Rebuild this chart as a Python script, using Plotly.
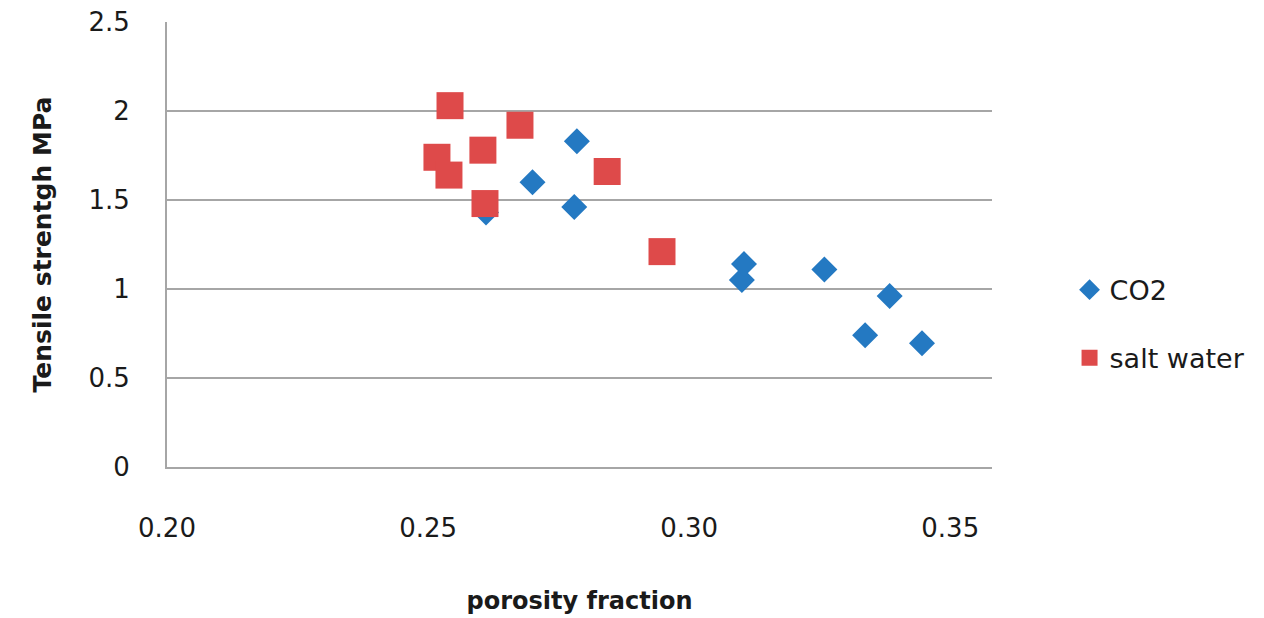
import plotly.graph_objects as go

co2_x = [0.2611, 0.2700, 0.2780, 0.2785, 0.3101, 0.3105, 0.3259, 0.3337, 0.3384, 0.3446]
co2_y = [1.43, 1.60, 1.46, 1.83, 1.05, 1.14, 1.11, 0.74, 0.96, 0.695]

salt_x = [0.2517, 0.2540, 0.2542, 0.2605, 0.2609, 0.2676, 0.2843, 0.2948]
salt_y = [1.74, 1.64, 2.03, 1.78, 1.48, 1.92, 1.66, 1.21]

x_ticks = [0.20, 0.25, 0.30, 0.35]
x_tick_labels = ["0.20", "0.25", "0.30", "0.35"]
y_ticks = [0, 0.5, 1, 1.5, 2, 2.5]
y_tick_labels = ["0", "0.5", "1", "1.5", "2", "2.5"]

FONT = "DejaVu Sans"
TXT = "#1a1a1a"

fig = go.Figure()
fig.add_trace(go.Scatter(
    x=co2_x, y=co2_y, mode="markers", name="CO2", legendgroup="a",
    marker=dict(symbol="diamond", size=20, color="#2479c2", line=dict(width=0)),
))
fig.add_trace(go.Scatter(
    x=salt_x, y=salt_y, mode="markers", name="salt water", legendgroup="b",
    marker=dict(symbol="square", size=27, color="#de4a4a", line=dict(width=0)),
))

fig.update_layout(
    width=1264, height=618,
    margin=dict(l=167, r=272, t=22, b=151),
    plot_bgcolor="white", paper_bgcolor="white",
    font=dict(family=FONT, size=26, color=TXT),
    showlegend=True,
    legend=dict(x=1.094, y=0.321, xanchor="left", yanchor="middle",
                font=dict(family=FONT, size=27, color=TXT),
                tracegroupgap=30, bgcolor="rgba(0,0,0,0)"),
    xaxis=dict(
        range=[0.2, 0.358], tickvals=x_ticks, ticktext=x_tick_labels,
        showgrid=False, zeroline=False, automargin=False,
        showline=True, linecolor="#a6a6a6", linewidth=2,
        ticks="", ticklabelstandoff=37,
        tickfont=dict(family=FONT, size=26, color=TXT),
        title=dict(text="<b>porosity fraction</b>", standoff=50,
                   font=dict(family=FONT, size=24, color=TXT)),
    ),
    yaxis=dict(
        range=[0, 2.5], tickvals=y_ticks, ticktext=y_tick_labels,
        showgrid=True, gridcolor="#a6a6a6", gridwidth=2, zeroline=False,
        automargin=False,
        showline=True, linecolor="#a6a6a6", linewidth=2,
        ticks="", ticklabelstandoff=30,
        tickfont=dict(family=FONT, size=26, color=TXT),
        title=dict(text="<b>Tensile strentgh MPa</b>", standoff=30,
                   font=dict(family=FONT, size=25, color=TXT)),
    ),
)

fig.write_html("out.html")
